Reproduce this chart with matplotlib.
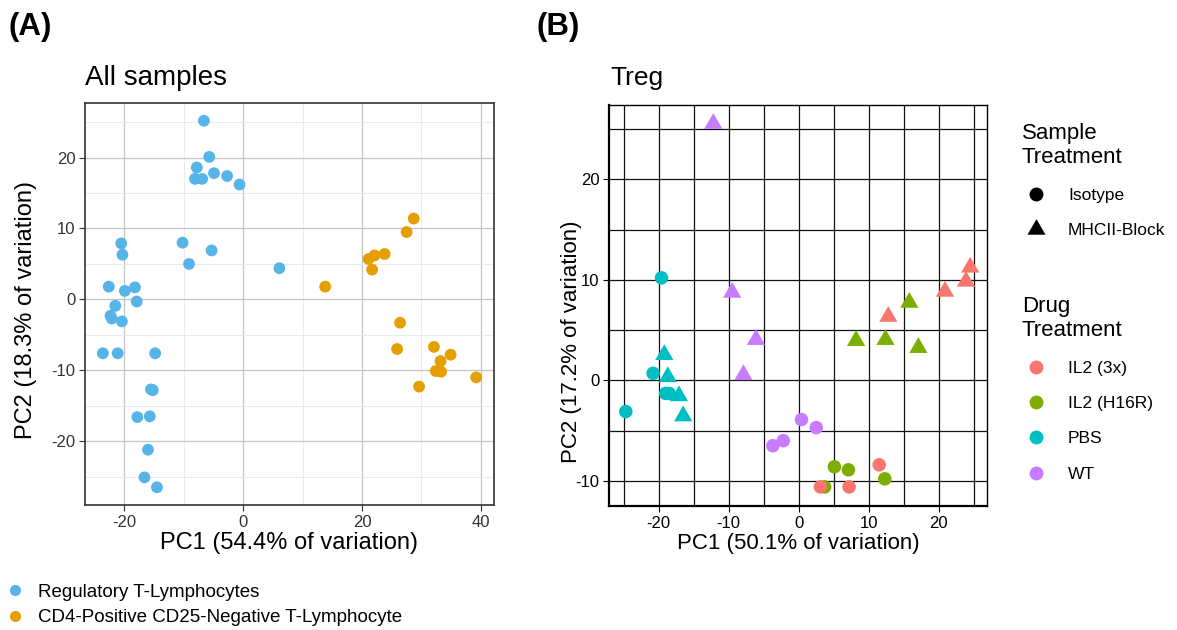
import matplotlib
matplotlib.use('Agg')
import matplotlib.pyplot as plt
from matplotlib.lines import Line2D
from matplotlib.ticker import MultipleLocator

plt.rcParams['font.family'] = ['Liberation Sans', 'DejaVu Sans']
plt.rcParams['axes.unicode_minus'] = False

# Panel A - all samples
treg_pc1 = [-6.6, -5.7, -7.8, -8.1, -6.9, -4.9, -2.7, -0.6, -10.2, -9.1, -5.3, 6.1,
            -20.5, -20.3, -22.6, -19.9, -18.2, -17.9, -21.5, -22.1, -20.4, -22.3,
            -23.6, -21.1, -14.8, -15.5, -15.2, -17.8, -15.7, -16.0, -16.6, -14.5]
treg_pc2 = [25.2, 20.1, 18.6, 17.0, 17.0, 17.8, 17.4, 16.2, 8.0, 5.0, 6.9, 4.4,
            7.9, 6.3, 1.8, 1.2, 1.7, -0.3, -0.9, -2.7, -3.1, -2.3,
            -7.6, -7.6, -7.6, -12.7, -12.8, -16.6, -16.5, -21.2, -25.1, -26.5]
cd4_pc1 = [13.8, 21.1, 22.1, 23.8, 21.7, 27.5, 28.7, 26.4, 25.9, 32.1, 34.9, 33.2,
           32.4, 33.3, 39.2, 29.6]
cd4_pc2 = [1.8, 5.7, 6.2, 6.4, 4.2, 9.5, 11.4, -3.3, -7.0, -6.7, -7.8, -8.7,
           -10.1, -10.2, -11.0, -12.3]
groups_a = ['Regulatory T-Lymphocytes', 'CD4-Positive CD25-Negative T-Lymphocyte']
colors_a = ['#56B4E9', '#E69F00']

# Panel B - Treg only
drugs = ['IL2 (3x)', 'IL2 (H16R)', 'PBS', 'WT']
drug_colors = ['#F8766D', '#7CAE00', '#00BFC4', '#C77CFF']
treatments = ['Isotype', 'MHCII-Block']

pbs_iso_x = [-19.6, -20.8, -19.0, -18.5, -24.7]
pbs_iso_y = [10.2, 0.7, -1.3, -1.3, -3.1]
pbs_blk_x = [-19.2, -18.7, -17.1, -16.5]
pbs_blk_y = [2.55, 0.35, -1.55, -3.55]
wt_iso_x = [0.4, 2.5, -2.2, -3.7]
wt_iso_y = [-3.9, -4.7, -6.0, -6.5]
wt_blk_x = [-12.2, -9.5, -6.1, -7.9]
wt_blk_y = [25.55, 8.75, 4.05, 0.55]
h16r_iso_x = [5.1, 7.1, 12.3, 3.7]
h16r_iso_y = [-8.6, -8.9, -9.8, -10.6]
h16r_blk_x = [15.8, 8.2, 12.4, 17.1]
h16r_blk_y = [7.75, 3.95, 4.05, 3.25]
il2_iso_x = [11.5, 3.1, 7.2]
il2_iso_y = [-8.4, -10.6, -10.6]
il2_blk_x = [24.5, 23.9, 20.9, 12.8]
il2_blk_y = [11.25, 9.85, 8.85, 6.35]

# ggplot-like triangle (centroid at origin)
tri = [(0, 1.555), (1.347, -0.778), (-1.347, -0.778)]

fig = plt.figure(figsize=(11.77, 6.3), dpi=100)

# ---------- (A) ----------
axA = fig.add_axes([85/1177, 1 - 505/630, 409/1177, 402/630])
axA.scatter(treg_pc1, treg_pc2, s=72, color=colors_a[0], edgecolors='none', zorder=3)
axA.scatter(cd4_pc1, cd4_pc2, s=72, color=colors_a[1], edgecolors='none', zorder=3)
axA.set_xlim(-26.6, 42.2)
axA.set_ylim(-29.0, 27.7)
axA.xaxis.set_major_locator(MultipleLocator(20))
axA.xaxis.set_minor_locator(MultipleLocator(10))
axA.yaxis.set_major_locator(MultipleLocator(10))
axA.yaxis.set_minor_locator(MultipleLocator(5))
axA.grid(which='major', color='#C4C4C4', linewidth=0.9, zorder=0)
axA.grid(which='minor', color='#E8E8E8', linewidth=0.6, zorder=0)
axA.set_axisbelow(True)
axA.tick_params(which='major', direction='out', length=4, color='#333333',
                labelcolor='#333333', labelsize=12, pad=3)
axA.tick_params(which='minor', length=0)
for sp in axA.spines.values():
    sp.set_color('#333333')
    sp.set_linewidth(1.2)
axA.set_xlabel('PC1 (54.4% of variation)', fontsize=17, labelpad=2)
axA.set_ylabel('PC2 (18.3% of variation)', fontsize=17)
axA.yaxis.set_label_coords(-0.117, 0.485)
fig.text(85/1177, 1 - 85/630, 'All samples', fontsize=20, ha='left', va='baseline')
fig.text(9/1177, 1 - 27/630, '(A)', fontsize=22.5, fontweight='bold', ha='left', va='center')

handlesA = [Line2D([], [], marker='o', linestyle='none', markersize=8,
                   markerfacecolor=c, markeredgecolor='none') for c in colors_a]
fig.legend(handlesA, groups_a, loc='upper left', bbox_to_anchor=(0.0, 1 - 578/630),
           frameon=False, fontsize=13.5, labelspacing=0.45, handletextpad=0.7,
           handlelength=1.0, borderaxespad=0, borderpad=0.3)

# ---------- (B) ----------
axB = fig.add_axes([609/1177, 1 - 506/630, 378/1177, 401/630])
series = [
    (h16r_iso_x, h16r_iso_y, 1, 'o'), (h16r_blk_x, h16r_blk_y, 1, tri),
    (il2_iso_x, il2_iso_y, 0, 'o'), (il2_blk_x, il2_blk_y, 0, tri),
    (pbs_iso_x, pbs_iso_y, 2, 'o'), (pbs_blk_x, pbs_blk_y, 2, tri),
    (wt_iso_x, wt_iso_y, 3, 'o'), (wt_blk_x, wt_blk_y, 3, tri),
]
for xs, ys, di, mk in series:
    size = 95 if mk == 'o' else 230
    axB.scatter(xs, ys, s=size, marker=mk, color=drug_colors[di],
                edgecolors='none', zorder=3)
axB.set_xlim(-27.1, 26.9)
axB.set_ylim(-12.5, 27.4)
axB.xaxis.set_major_locator(MultipleLocator(10))
axB.xaxis.set_minor_locator(MultipleLocator(5))
axB.yaxis.set_major_locator(MultipleLocator(10))
axB.yaxis.set_minor_locator(MultipleLocator(5))
axB.grid(which='both', color='#111111', linewidth=0.9, zorder=0)
axB.set_axisbelow(True)
axB.tick_params(which='major', direction='out', length=4, color='black',
                labelcolor='black', labelsize=12, pad=3)
axB.tick_params(which='minor', length=0)
for sp in axB.spines.values():
    sp.set_color('black')
    sp.set_linewidth(1.0)
axB.spines['left'].set_linewidth(1.6)
axB.spines['bottom'].set_linewidth(1.6)
axB.set_xlabel('PC1 (50.1% of variation)', fontsize=16, labelpad=2)
axB.set_ylabel('PC2 (17.2% of variation)', fontsize=16)
axB.yaxis.set_label_coords(-0.072, 0.41)
fig.text(610/1177, 1 - 85/630, 'Treg', fontsize=19, ha='left', va='baseline')
fig.text(537/1177, 1 - 27/630, '(B)', fontsize=22.5, fontweight='bold', ha='left', va='center')

handlesB1 = [Line2D([], [], marker='o', linestyle='none', markersize=10,
                    markerfacecolor='black', markeredgecolor='none'),
             Line2D([], [], marker=tri, linestyle='none', markersize=15,
                    markerfacecolor='black', markeredgecolor='none')]
fig.legend(handlesB1, treatments, title='Sample\nTreatment',
           loc='upper left', bbox_to_anchor=(1015/1177, 1 - 116/630),
           frameon=False, fontsize=12.5, title_fontsize=16,
           labelspacing=1.15, handletextpad=1.05, handlelength=1.6,
           borderaxespad=0, alignment='left')
handlesB2 = [Line2D([], [], marker='o', linestyle='none', markersize=10,
                    markerfacecolor=c, markeredgecolor='none') for c in drug_colors]
fig.legend(handlesB2, drugs, title='Drug\nTreatment',
           loc='upper left', bbox_to_anchor=(1015/1177, 1 - 289/630),
           frameon=False, fontsize=12.5, title_fontsize=16,
           labelspacing=1.15, handletextpad=1.05, handlelength=1.6,
           borderaxespad=0, alignment='left')

plt.savefig('out.png', dpi=100)
